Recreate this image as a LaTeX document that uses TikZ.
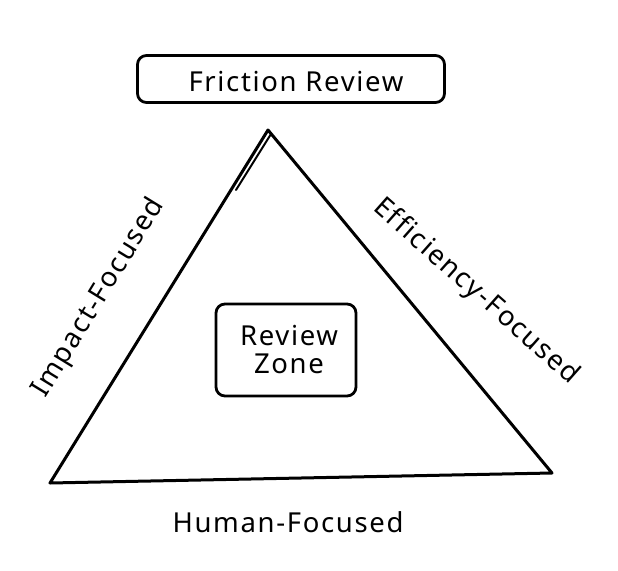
\documentclass[tikz,border=0pt]{standalone}
\usepackage{fontspec}
\setmainfont{Noto Sans}[LetterSpace=6,Ligatures=NoCommon]
\begin{document}
\begin{tikzpicture}[x=1pt,y=-1pt,
  box/.style={draw, line width=2.8pt, rounded corners=9pt, inner sep=0pt},
  lbl/.style={font=\fontsize{27.5}{30}\selectfont, inner sep=0pt},
  edge/.style={line width=3pt, line join=round, line cap=round}]
\useasboundingbox[fill=white] (0,0) rectangle (618,570);
\node[box, minimum width=307pt, minimum height=47pt] (title) at (291,79) {};
\node[lbl] (titletxt) at (296,82) {Friction Review};
\coordinate (A) at (268,130);
\coordinate (B) at (50,483);
\coordinate (C) at (552,473);
\draw[edge] (A) -- (B) -- (C) -- cycle;
\coordinate (A2) at (271,134);
\coordinate (D2) at (236,190);
\draw[line width=2pt, line cap=round] (A2) -- (D2);
\node[box, minimum width=140pt, minimum height=92pt] (zone) at (286,350) {};
\node[lbl, align=center] (zonetxt) at (289,349) {Review\\[-2pt]Zone};
\node[lbl, rotate=58.5] (impact) at (99,298) {Impact-Focused};
\node[lbl, rotate=-41.5] (eff) at (476,292) {Efficiency-Focused};
\node[lbl] (human) at (288,522) {Human-Focused};
\end{tikzpicture}
\end{document}
